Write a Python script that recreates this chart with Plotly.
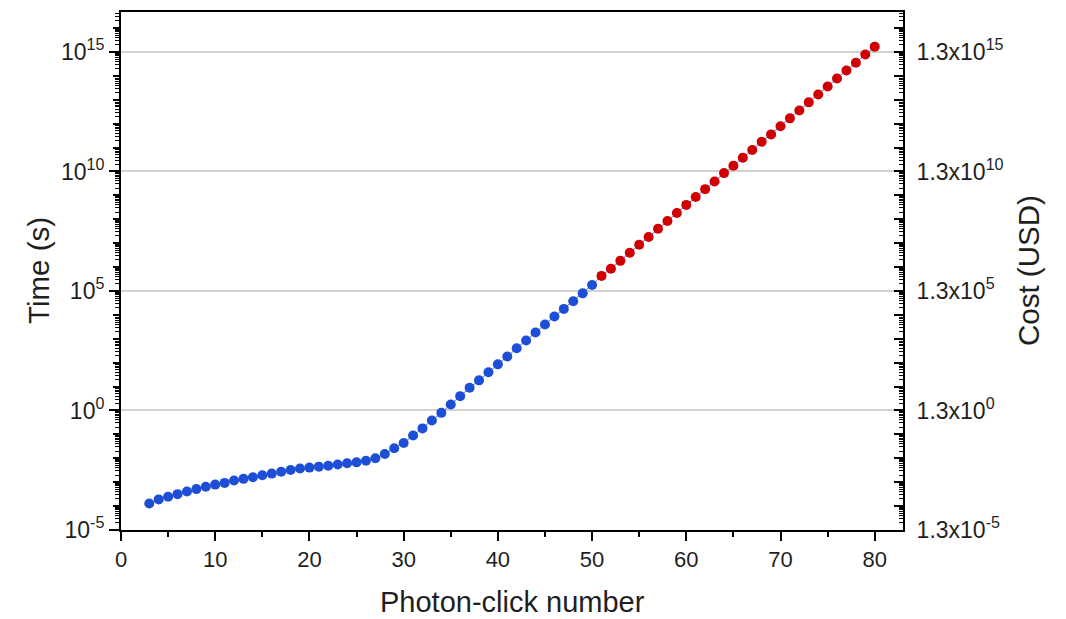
import plotly.graph_objects as go

# ---- data ----
blue_x = list(range(3, 51))
blue_t = [1.29e-4, 1.91e-4, 2.45e-4, 3.16e-4, 4.07e-4, 5.13e-4, 6.46e-4, 7.94e-4,
          9.33e-4, 1.17e-3, 1.38e-3, 1.62e-3, 1.95e-3, 2.29e-3, 2.75e-3, 3.24e-3,
          3.72e-3, 4.07e-3, 4.47e-3, 4.90e-3, 5.50e-3, 6.17e-3, 6.76e-3, 7.94e-3,
          1.00e-2, 1.51e-2, 2.63e-2, 4.37e-2, 8.91e-2, 0.178, 0.380, 0.794,
          1.78, 3.98, 8.91, 18.2, 39.8, 85.1, 182, 398,
          851, 1820, 3980, 8510, 1.78e4, 3.72e4, 7.94e4, 1.78e5]
red_x = list(range(51, 81))
red_t = [4.27e5, 8.51e5, 1.82e6, 3.98e6, 8.51e6, 1.82e7, 3.98e7, 8.51e7,
         1.82e8, 3.98e8, 8.51e8, 1.82e9, 3.80e9, 8.51e9, 1.74e10, 3.72e10,
         7.94e10, 1.74e11, 3.55e11, 7.76e11, 1.66e12, 3.55e12, 7.76e12, 1.66e13,
         3.55e13, 7.76e13, 1.66e14, 3.55e14, 7.76e14, 1.66e15]

major_exp = [-5, 0, 5, 10, 15]
time_labels = ["10<sup>-5</sup>", "10<sup>0</sup>", "10<sup>5</sup>",
               "10<sup>10</sup>", "10<sup>15</sup>"]
cost_labels = ["1.3x10<sup>-5</sup>", "1.3x10<sup>0</sup>", "1.3x10<sup>5</sup>",
               "1.3x10<sup>10</sup>", "1.3x10<sup>15</sup>"]
x_ticks = [0, 10, 20, 30, 40, 50, 60, 70, 80]

# ---- styling ----
BLUE = "#1d4fd6"
RED = "#d00000"
LINE = "#5a6ff0"
FONT = "Liberation Sans, Arial, sans-serif"
TXT = "#1f1f1f"
yrange = [-5, 16.67]

decades = list(range(-5, 17))
major_vals = [10.0 ** e for e in major_exp]
decade_vals = [10.0 ** e for e in decades]
other_decades = [10.0 ** e for e in decades if e not in major_exp]
sub_decades = [m * 10.0 ** e for e in decades for m in range(2, 10)]
right_text = []
for e in decades:
    right_text.append(cost_labels[major_exp.index(e)] if e in major_exp else "")

fig = go.Figure()
fig.add_trace(go.Scatter(x=blue_x + red_x, y=blue_t + red_t, mode="lines",
                         line=dict(color=LINE, width=1), showlegend=False,
                         hoverinfo="skip"))
fig.add_trace(go.Scatter(x=blue_x, y=blue_t, mode="markers",
                         marker=dict(color=BLUE, size=10), showlegend=False))
fig.add_trace(go.Scatter(x=red_x, y=red_t, mode="markers",
                         marker=dict(color=RED, size=10), showlegend=False))
# invisible carriers so that the overlay axes are drawn
for ax in ("y2", "y3"):
    fig.add_trace(go.Scatter(x=red_x, y=red_t, yaxis=ax, mode="markers",
                             marker=dict(opacity=0), showlegend=False,
                             hoverinfo="skip"))

fig.update_layout(
    width=1066, height=619,
    margin=dict(l=113, r=171, t=2, b=97),
    paper_bgcolor="white", plot_bgcolor="white",
    font=dict(family=FONT, color=TXT, size=23),
    xaxis=dict(
        range=[0, 83], tickmode="array", tickvals=x_ticks,
        ticks="outside", ticklen=9, tickwidth=1.5, tickcolor="black",
        minor=dict(dtick=5, tick0=0, ticks="outside", ticklen=5, tickwidth=1.5,
                   tickcolor="black", showgrid=False),
        showline=True, linecolor="black", linewidth=2, mirror=True,
        showgrid=False, zeroline=False,
        tickfont=dict(size=22, color=TXT),
    ),
    yaxis=dict(
        type="log", range=yrange, tickmode="array", tickvals=major_vals,
        ticktext=time_labels, ticks="outside", ticklen=10, tickwidth=1.5,
        tickcolor="black",
        minor=dict(tickmode="array", tickvals=sub_decades, ticks="outside",
                   ticklen=4, tickwidth=1, tickcolor="black", showgrid=False),
        showgrid=True, gridcolor="#d2d2d2", gridwidth=1.5,
        showline=True, linecolor="black", linewidth=2,
        zeroline=False, tickfont=dict(size=23, color=TXT),
    ),
    yaxis3=dict(
        type="log", range=yrange, overlaying="y", side="left", anchor="x",
        tickmode="array", tickvals=other_decades, showticklabels=False,
        ticks="outside", ticklen=7, tickwidth=1.5, tickcolor="black",
        showgrid=False, showline=False, zeroline=False,
    ),
    yaxis2=dict(
        type="log", range=yrange, overlaying="y", side="right", anchor="x",
        tickmode="array", tickvals=decade_vals, ticktext=right_text,
        ticks="inside", ticklen=9, tickwidth=1.5, tickcolor="black",
        minor=dict(tickmode="array", tickvals=sub_decades, ticks="inside",
                   ticklen=4, tickwidth=1, tickcolor="black", showgrid=False),
        showgrid=False, showline=True, linecolor="black", linewidth=2,
        zeroline=False, ticklabelstandoff=7,
        tickfont=dict(size=23, color=TXT),
    ),
    annotations=[
        dict(text="Photon-click number", xref="paper", yref="paper",
             x=0.5, y=0, xanchor="center", yanchor="middle", yshift=-72,
             showarrow=False, font=dict(size=29, color=TXT)),
        dict(text="Time (s)", xref="paper", yref="paper", x=0, y=0.5,
             xanchor="center", yanchor="middle", xshift=-83, textangle=-90,
             showarrow=False, font=dict(size=29.5, color=TXT)),
        dict(text="Cost (USD)", xref="paper", yref="paper", x=1, y=0.5,
             xanchor="center", yanchor="middle", xshift=125, textangle=-90,
             showarrow=False, font=dict(size=29.5, color=TXT)),
    ],
)

fig.write_html("out.html")
